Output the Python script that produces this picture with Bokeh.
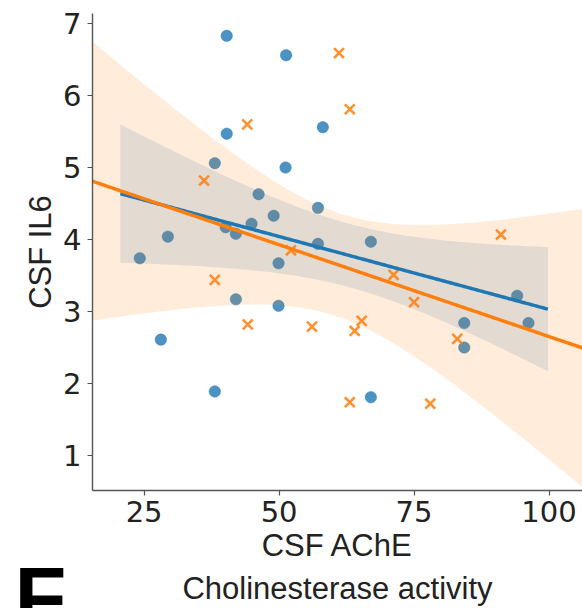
import numpy as np
from bokeh.plotting import figure
from bokeh.layouts import column
from bokeh.models import Range1d, FixedTicker, Label
from bokeh.embed import file_html
from bokeh.resources import INLINE

# CSF AChE (x) vs CSF IL6 (y), two groups
blue_x = [40.3, 51.3, 40.3, 58.1, 38.1, 51.2, 46.2, 57.2, 49.0, 44.9, 40.1, 42.0, 57.2,
          67.0, 29.4, 24.2, 49.9, 42.0, 49.9, 28.1, 38.1, 67.0, 84.3, 84.3, 94.1, 96.2]
blue_y = [6.83, 6.56, 5.47, 5.56, 5.06, 5.00, 4.63, 4.44, 4.33, 4.22, 4.17, 4.08, 3.94,
          3.97, 4.04, 3.74, 3.67, 3.17, 3.08, 2.61, 1.89, 1.81, 2.84, 2.50, 3.22, 2.84]

orange_x = [61.1, 63.1, 44.1, 36.1, 52.2, 38.1, 44.2, 56.1, 91.1, 71.2, 75.0, 65.3,
            64.0, 83.0, 63.1, 78.0]
orange_y = [6.59, 5.81, 5.60, 4.82, 3.85, 3.44, 2.82, 2.79, 4.07, 3.51, 3.13, 2.87,
            2.73, 2.62, 1.74, 1.72]

x_ticks = [25, 50, 75, 100]
y_ticks = [1, 2, 3, 4, 5, 6, 7]
x_lim = (15.44, 106.2)
y_lim = (0.514, 7.14)

x_title = "CSF AChE"
x_subtitle = "Cholinesterase activity"
y_title = "CSF IL6"
panel_letter = "F"

BLUE = "#1f77b4"
ORANGE = "#ff7f0e"
TEXT = "#222222"


def fit_with_band(x, y, x0, x1, n=200, z=1.959964):
    """Least-squares line with a 95% band from the heteroscedasticity-robust
    (HC3) covariance, a close stand-in for a case-resampling bootstrap."""
    x = np.asarray(x, float)
    y = np.asarray(y, float)
    X = np.column_stack([np.ones_like(x), x])
    xtx_inv = np.linalg.inv(X.T @ X)
    beta = xtx_inv @ X.T @ y
    resid = y - X @ beta
    lev = np.einsum("ij,jk,ik->i", X, xtx_inv, X)
    w = (resid / (1 - lev))**2
    meat = X.T @ (X * w[:, None])
    cov = xtx_inv @ meat @ xtx_inv
    grid = np.linspace(x0, x1, n)
    G = np.column_stack([np.ones_like(grid), grid])
    pred = G @ beta
    se = np.sqrt(np.einsum("ij,jk,ik->i", G, cov, G))
    return grid, pred, pred - z * se, pred + z * se


W = 582
TOP_H = 565
BOT_H = 608 - TOP_H

p = figure(width=W, height=TOP_H, output_backend="svg", toolbar_location=None,
           x_range=Range1d(*x_lim), y_range=Range1d(*y_lim),
           min_border_left=92, min_border_right=0, min_border_top=13,
           min_border_bottom=TOP_H - 490)
p.frame_align = False
p.outline_line_color = None
p.xgrid.visible = False
p.ygrid.visible = False
p.background_fill_color = "white"
p.border_fill_color = "white"

# blue group: scatter, then its band; line spans data range plus margins
bx0 = min(blue_x) - 0.05 * (max(blue_x) - min(blue_x))
bx1 = max(blue_x) + 0.05 * (max(blue_x) - min(blue_x))
bg, bp, blo, bhi = fit_with_band(blue_x, blue_y, bx0, bx1)

p.scatter(blue_x, blue_y, size=11.5, marker="circle", fill_color=BLUE,
          line_color=BLUE, fill_alpha=0.8, line_alpha=0.8, line_width=0.5)
p.varea(x=bg, y1=blo, y2=bhi, fill_color=BLUE, fill_alpha=0.15)

# orange group: line spans the full axis
og, op, olo, ohi = fit_with_band(orange_x, orange_y, x_lim[0], x_lim[1])
p.scatter(orange_x, orange_y, size=14, marker="x", line_color=ORANGE,
          line_alpha=0.85, line_width=2.6)
p.varea(x=og, y1=olo, y2=ohi, fill_color=ORANGE, fill_alpha=0.15)

p.line(bg, bp, line_color=BLUE, line_width=3.5)
p.line(og, op, line_color=ORANGE, line_width=3.5)

for ax in (p.xaxis, p.yaxis):
    ax.axis_line_color = "#555555"
    ax.axis_line_width = 1.4
    ax.major_tick_line_color = "#555555"
    ax.major_tick_line_width = 1.2
    ax.major_tick_out = 5
    ax.major_tick_in = 0
    ax.minor_tick_line_color = None
    ax.major_label_text_font = "DejaVu Sans"
    ax.major_label_text_font_size = "29px"
    ax.major_label_text_color = TEXT
    ax.axis_label_text_font = "Liberation Sans"
    ax.axis_label_text_font_size = "31px"
    ax.axis_label_text_font_style = "normal"
    ax.axis_label_text_color = TEXT

p.xaxis.ticker = FixedTicker(ticks=x_ticks)
p.yaxis.ticker = FixedTicker(ticks=y_ticks)
p.xaxis.axis_label = x_title
p.xaxis.major_label_standoff = 5
p.xaxis.axis_label_standoff = 3
p.yaxis.axis_label = y_title
p.yaxis.major_label_standoff = 6
p.yaxis.axis_label_standoff = 2

# strip under the chart: second line of the x title and the panel letter
q = figure(width=W, height=BOT_H, output_backend="svg", toolbar_location=None,
           x_range=Range1d(0, W), y_range=Range1d(0, BOT_H),
           x_axis_type=None, y_axis_type=None,
           min_border_left=0, min_border_right=0, min_border_top=0,
           min_border_bottom=0)
q.frame_align = False
q.outline_line_color = None
q.xgrid.visible = False
q.ygrid.visible = False
q.background_fill_color = "white"
q.border_fill_color = "white"

q.add_layout(Label(x=(92 + W) / 2, y=BOT_H - 23, text=x_subtitle,
                   text_font="Liberation Sans", text_font_size="31px",
                   text_color=TEXT, text_align="center", text_baseline="middle"))
q.add_layout(Label(x=14, y=BOT_H + 16, text=panel_letter,
                   text_font="Liberation Sans", text_font_style="bold",
                   text_font_size="85px", text_color="black",
                   text_align="left", text_baseline="top"))

layout = column(p, q, spacing=0)
open("out.html", "w").write(file_html(layout, INLINE))
